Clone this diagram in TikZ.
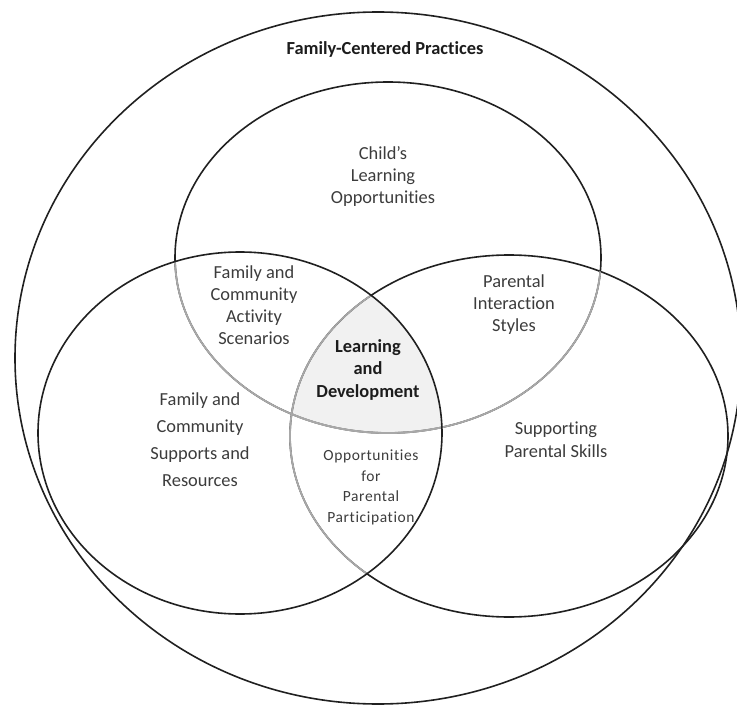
\documentclass[tikz,border=0pt]{standalone}
\usepackage{fontspec}
\setmainfont[Ligatures=NoCommon]{Carlito}
\newfontfamily\opfont[LetterSpace=4,Ligatures=NoCommon]{Carlito}
\definecolor{lineDark}{HTML}{202020}
\definecolor{lineGray}{HTML}{A8A8A8}
\definecolor{txtReg}{HTML}{3C3C3C}
\definecolor{txtBold}{HTML}{1C1C1C}
\definecolor{centerFill}{HTML}{F1F1F1}
\tikzset{
  ring/.style={draw=lineDark, line width=1.6pt},
  ringgray/.style={draw=lineGray, line width=1.8pt},
  reglabel/.style={text=txtReg, align=center, inner sep=0pt, font=\fontsize{18.4}{#1}\selectfont},
  boldlabel/.style={text=txtBold, align=center, inner sep=0pt, font=\fontsize{18.4}{#1}\selectfont\bfseries},
  oplabel/.style={text=txtReg, align=center, inner sep=0pt, font=\fontsize{15.5}{20.5}\selectfont\opfont},
}
\def\outerE{(378,358) ellipse [x radius=363, y radius=346]}
\def\topE{(388,257.5) ellipse [x radius=213, y radius=175.5]}
\def\leftE{(240,433) ellipse [x radius=202, y radius=181]}
\def\rightE{(509,436) ellipse [x radius=219, y radius=181]}
\begin{document}
\begin{tikzpicture}[x=1pt,y=-1pt]
\useasboundingbox (0,0) rectangle (737,706);
\clip (0,0) rectangle (737,706);
% centre fill
\begin{scope}
  \clip \topE;
  \clip \leftE;
  \fill[centerFill] \rightE;
\end{scope}
% outlines
\path[ring] \outerE;
\path[ring] \topE;
\path[ring] \rightE;
% gray segments
\begin{scope}
  \clip \leftE;
  \path[ringgray] \topE;
  \path[ringgray] \rightE;
\end{scope}
\begin{scope}
  \clip \rightE;
  \path[ringgray] \topE;
\end{scope}
\path[ring] \leftE;
% labels
\node[boldlabel=22] (fcp) at (385,49) {Family-Centered Practices};
\node[reglabel=22] (child) at (383,176) {Child’s\\Learning\\Opportunities};
\node[reglabel=22] (activity) at (254,305) {Family and\\Community\\Activity\\Scenarios};
\node[reglabel=22] (interaction) at (514,305) {Parental\\Interaction\\Styles};
\node[boldlabel=22.5] (learning) at (368,369.5) {Learning\\and\\Development};
\node[reglabel=27] (supports) at (200,440) {Family and\\Community\\Supports and\\Resources};
\node[reglabel=23] (skills) at (556,440) {Supporting\\Parental Skills};
\node[oplabel] (participation) at (371,487.5) {Opportunities\\for\\Parental\\Participation};
\end{tikzpicture}
\end{document}
